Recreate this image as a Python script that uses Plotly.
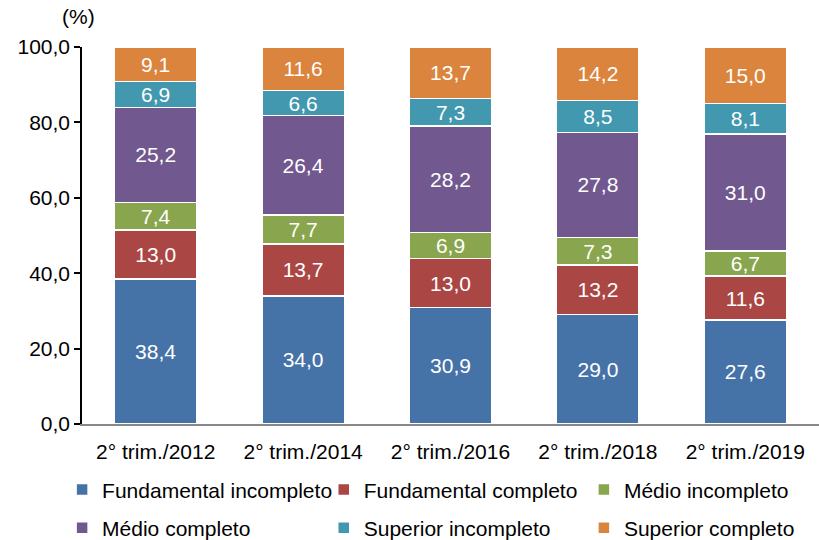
import plotly.graph_objects as go

periods = ["2° trim./2012", "2° trim./2014", "2° trim./2016", "2° trim./2018", "2° trim./2019"]

fund_incompleto = [38.4, 34.0, 30.9, 29.0, 27.6]
fund_completo = [13.0, 13.7, 13.0, 13.2, 11.6]
medio_incompleto = [7.4, 7.7, 6.9, 7.3, 6.7]
medio_completo = [25.2, 26.4, 28.2, 27.8, 31.0]
sup_incompleto = [6.9, 6.6, 7.3, 8.5, 8.1]
sup_completo = [9.1, 11.6, 13.7, 14.2, 15.0]

series = [
    ("Fundamental incompleto", fund_incompleto, "#4572A7"),
    ("Fundamental completo", fund_completo, "#AA4643"),
    ("Médio incompleto", medio_incompleto, "#89A54E"),
    ("Médio completo", medio_completo, "#71588F"),
    ("Superior incompleto", sup_incompleto, "#4198AF"),
    ("Superior completo", sup_completo, "#DB843D"),
]

font = "Liberation Sans, Arial, sans-serif"

# legend laid out as 3 columns x 2 rows -> one legend per column
legend_ids = ["legend", "legend2", "legend3"]

fig = go.Figure()
for i, (name, vals, col) in enumerate(series):
    fig.add_trace(go.Bar(
        x=periods, y=vals, name=name,
        legend=legend_ids[i % 3], legendgroup=name,
        marker=dict(color=col, line=dict(color="white", width=1.5)),
        text=vals, texttemplate="%{y:.1f}", textposition="inside",
        insidetextanchor="middle", textangle=0, constraintext="none",
        textfont=dict(color="white", size=21, family=font),
    ))

leg = dict(
    orientation="v", xanchor="left", y=-0.12, yanchor="top",
    font=dict(size=21, family=font), traceorder="grouped",
    tracegroupgap=8, bgcolor="rgba(0,0,0,0)",
)

fig.update_layout(
    barmode="stack",
    bargap=0.44,
    width=819, height=540,
    margin=dict(l=82, r=0, t=47, b=116, autoexpand=False),
    plot_bgcolor="white", paper_bgcolor="white",
    separators=",.",
    font=dict(family=font, size=21, color="black"),
    showlegend=True,
    legend=dict(leg, x=-0.027),
    legend2=dict(leg, x=0.328),
    legend3=dict(leg, x=0.681),
    uniformtext=dict(mode=False),
)
fig.update_yaxes(
    range=[0, 100], dtick=20, tickformat=".1f",
    showline=True, linecolor="black", linewidth=1.5,
    ticks="outside", ticklen=6, tickcolor="black", tickwidth=1.5,
    showgrid=False, zeroline=False,
)
fig.update_xaxes(
    showline=True, linecolor="#888888", linewidth=1.5,
    ticks="", showgrid=False, ticklabelstandoff=8,
)
fig.add_annotation(
    text="(%)", xref="paper", yref="paper", x=-0.005, y=1.045,
    xanchor="center", yanchor="bottom", showarrow=False,
    font=dict(size=21, family=font),
)

fig.write_html("out.html", config={"displayModeBar": False},
               post_script="document.body.style.margin='0';")
